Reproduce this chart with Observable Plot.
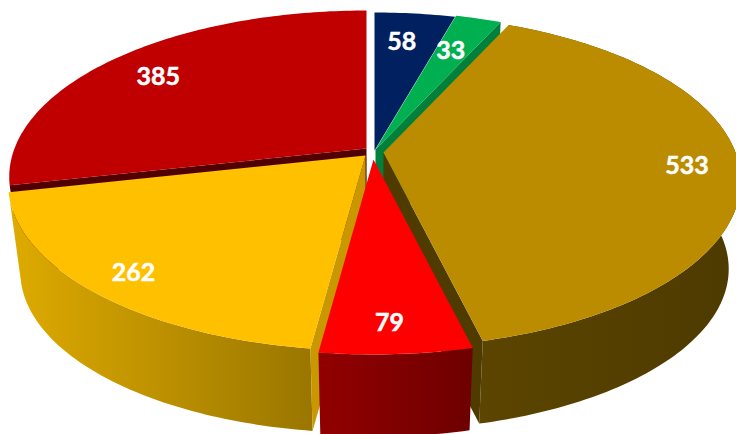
<!DOCTYPE html>
<html>
<head>
<meta charset="utf-8">
<script src="https://cdn.jsdelivr.net/npm/d3@7"></script>
<script src="https://cdn.jsdelivr.net/npm/@observablehq/plot@0.6"></script>
<style>html,body{margin:0;padding:0;background:#fff}svg{display:block}</style>
</head>
<body>
<div id="chart"></div>
<script>
// Data, clockwise from 12 o'clock
const sliceNames = ["navy", "green", "gold", "red", "yellow", "crimson"];
const sliceValues = [58, 33, 533, 79, 262, 385];

// Styles
const topColors = ["#002060", "#00b050", "#bb8c00", "#ff0000", "#ffc000", "#c00000"];
const wallLeftColors = [null, null, "#5c4500", "#920000", "#dfab00", null];
const wallRightColors = [null, null, "#4d3a00", "#6e0000", "#9a7600", null];
const faceColors = [null, "#00803a", "#4f3b00", null, "#c99700", "#500000"];
// which cut edge of each slice shows: 0 none, 1 end edge, -1 start edge
const faceEdges = [0, 1, 1, 0, -1, -1];

// Layout: per-slice explosion centre, label placement, and the projection constants
const centerX = [374, 375, 383, 373, 365, 366];
const centerY = [150, 149, 152, 159, 155, 148];
const labelRadius = [0.77, 0.72, 0.865, 0.86, 0.87, 0.82];
const labelShiftX = [-5, -2, -4, -3, 0, -1];
const labelShiftY = [1, 0, 0, 1, 1, 5];
const radiusX = 352, radiusY = 161.6, perspective = 0.171;
const axisX = 375, axisY = 150, wallShrink = 0.967, wallDrop = 89;
const drawOrder = [5, 0, 1, 2, 4, 3];

const total = d3.sum(sliceValues);
const stops = d3.cumsum(sliceValues).map(v => v / total * 2 * Math.PI);
const starts = stops.map((_, i) => (i ? stops[i - 1] : 0));

function topPoint(i, a, r = 1) {
  const s = 1 / (1 + perspective * r * Math.cos(a));
  return [centerX[i] + radiusX * r * Math.sin(a) * s, centerY[i] - radiusY * r * Math.cos(a) * s];
}
function lower([x, y]) {
  return [axisX + (x - axisX) * wallShrink, axisY + (y - axisY) * wallShrink + wallDrop];
}
function arc(i) {
  const n = Math.max(2, Math.ceil((stops[i] - starts[i]) * 180 / Math.PI));
  return d3.range(n + 1).map(k => topPoint(i, starts[i] + (stops[i] - starts[i]) * k / n));
}

const rows = [];
const gradients = [];
let id = 0;
function add(points, color) {
  id++;
  for (const [x, y] of points) rows.push({id, x, y, color});
}

for (const i of drawOrder) {
  const apex = topPoint(i, 0, 0);
  const rim = arc(i);
  if (wallLeftColors[i]) {
    const outline = [...rim, ...rim.map(lower).reverse()];
    const [x0, x1] = d3.extent(outline, p => p[0]);
    gradients.push({key: sliceNames[i], x0, x1, from: wallLeftColors[i], to: wallRightColors[i]});
    add(outline, `url(#wall-${sliceNames[i]})`);
  }
  if (faceEdges[i]) {
    const edge = topPoint(i, faceEdges[i] > 0 ? stops[i] : starts[i]);
    add([apex, edge, lower(edge), lower(apex)], faceColors[i]);
  }
  add([apex, ...rim], topColors[i]);
}

const labels = sliceValues.map((value, i) => {
  const [x, y] = topPoint(i, (starts[i] + stops[i]) / 2, labelRadius[i]);
  return {x: x + labelShiftX[i], y: y + labelShiftY[i], value};
});

const chart = Plot.plot({
  width: 736,
  height: 434,
  margin: 0,
  x: {domain: [0, 736], range: [0, 736], axis: null},
  y: {domain: [0, 434], range: [0, 434], axis: null},
  color: {type: "identity"},
  style: {background: "#fff"},
  marks: [
    Plot.line(rows, {x: "x", y: "y", z: "id", fill: "color"}),
    Plot.text(labels, {
      x: "x", y: "y", text: d => String(d.value),
      fill: "#fff", stroke: "#fff", strokeWidth: 0.5,
      fontSize: 25, fontWeight: 700, fontFamily: "Lato"
    })
  ]
});

// Horizontal shading of the outer walls, placed through the chart's own x scale
const xScale = chart.scale("x");
const defs = d3.select(chart).insert("defs", ":first-child");
for (const g of gradients) {
  const lg = defs.append("linearGradient")
    .attr("id", `wall-${g.key}`)
    .attr("gradientUnits", "userSpaceOnUse")
    .attr("x1", xScale.apply(g.x0)).attr("x2", xScale.apply(g.x1))
    .attr("y1", 0).attr("y2", 0);
  lg.append("stop").attr("offset", 0).attr("stop-color", g.from);
  lg.append("stop").attr("offset", 1).attr("stop-color", g.to);
}
document.getElementById("chart").append(chart);
</script>
</body>
</html>
